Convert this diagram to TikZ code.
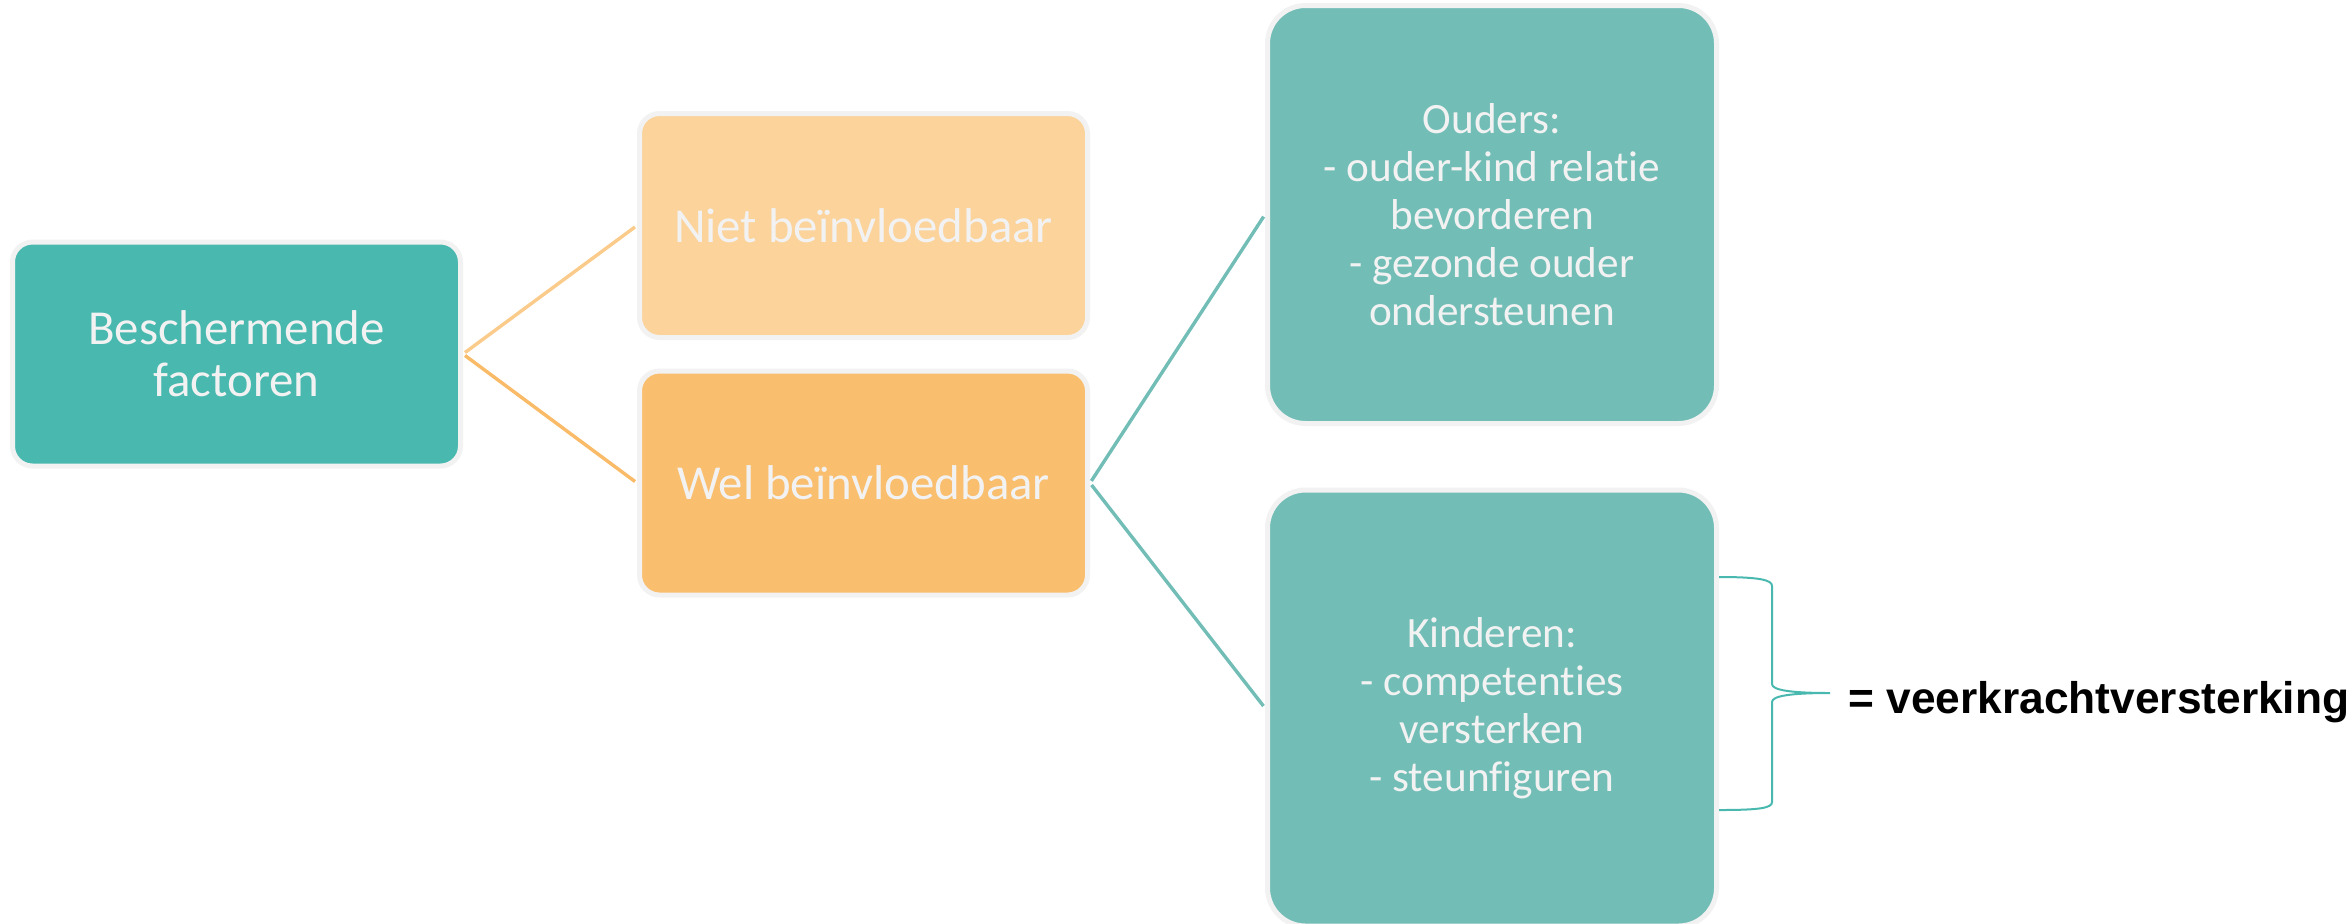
\documentclass[tikz,border=0pt]{standalone}
\usepackage{fontspec}
\setmainfont{Carlito}[Ligatures=NoCommon]
\setsansfont{Liberation Sans}
\usetikzlibrary{positioning}
\definecolor{tealdark}{HTML}{49B9B0}
\definecolor{teallight}{HTML}{72BEB7}
\definecolor{orangelight}{HTML}{FBD39B}
\definecolor{orangemid}{HTML}{F9BE6E}
\definecolor{rimgray}{HTML}{F2F2F2}
\definecolor{txtgray}{HTML}{F2F2F2}
\tikzset{
    boxs/.style = {rectangle, rounded corners=0.2cm, draw=rimgray, line width=0.05cm,
                   minimum width=4.48cm, minimum height=2.24cm, align=center,
                   text=txtgray, font=\fontsize{13.9}{14.7}\selectfont},
    boxg/.style = {boxs, fill=tealdark},
    boxol/.style = {boxs, fill=orangelight},
    boxo/.style = {boxs, fill=orangemid},
    boxl/.style = {rectangle, rounded corners=0.38cm, draw=rimgray, line width=0.05cm,
                   minimum width=4.49cm, align=center, fill=teallight,
                   text=txtgray, font=\fontsize{12.3}{13.7}\selectfont},
    edgeol/.style = {line width=0.034cm, draw=orangelight!90!orange, shorten >=0.025cm, shorten <=0.025cm},
    edgeo/.style = {line width=0.034cm, draw=orangemid!95!orange, shorten >=0.025cm, shorten <=0.025cm},
    edget/.style = {line width=0.034cm, draw=teallight, shorten >=0.025cm, shorten <=0.025cm},
    bracet/.style = {line width=0.02cm, draw=tealdark},
}

\begin{document}
\begin{tikzpicture}
\useasboundingbox (0,0) rectangle (23.48,-9.23);
\node[boxg] at (2.365,-3.54) (besch) {Beschermende\\factoren};
\node[boxol] at (8.635,-2.255) (niet) {Niet beïnvloedbaar};
\node[boxo] at (8.635,-4.83) (wel) {Wel beïnvloedbaar};
\node[boxl, minimum height=4.18cm] at (14.92,-2.145) (ouders)
    {Ouders:\\- ouder-kind relatie\\bevorderen\\- gezonde ouder\\ondersteunen};
\node[boxl, minimum height=4.36cm] at (14.92,-7.08) (kind)
    {Kinderen:\\- competenties\\versterken\\- steunfiguren};
\node[anchor=base west, font=\sffamily\bfseries\fontsize{12.6}{14}\selectfont]
    at (18.36,-7.13) (veer) {= veerkrachtversterking};
%
\draw[edgeol] (besch.east) -- (niet.west);
\draw[edgeo] (besch.east) -- (wel.west);
\draw[edget] (wel.east) -- (ouders.west);
\draw[edget] (wel.east) -- (kind.west);
%
\draw[bracet] (17.19,-5.77) .. controls (17.60,-5.77) and (17.72,-5.80) .. (17.72,-5.86)
    -- (17.72,-6.84) .. controls (17.72,-6.90) and (17.90,-6.93) .. (18.30,-6.93)
    .. controls (17.90,-6.93) and (17.72,-6.96) .. (17.72,-7.02)
    -- (17.72,-8.02) .. controls (17.72,-8.08) and (17.60,-8.10) .. (17.19,-8.10);
\end{tikzpicture}
\end{document}
